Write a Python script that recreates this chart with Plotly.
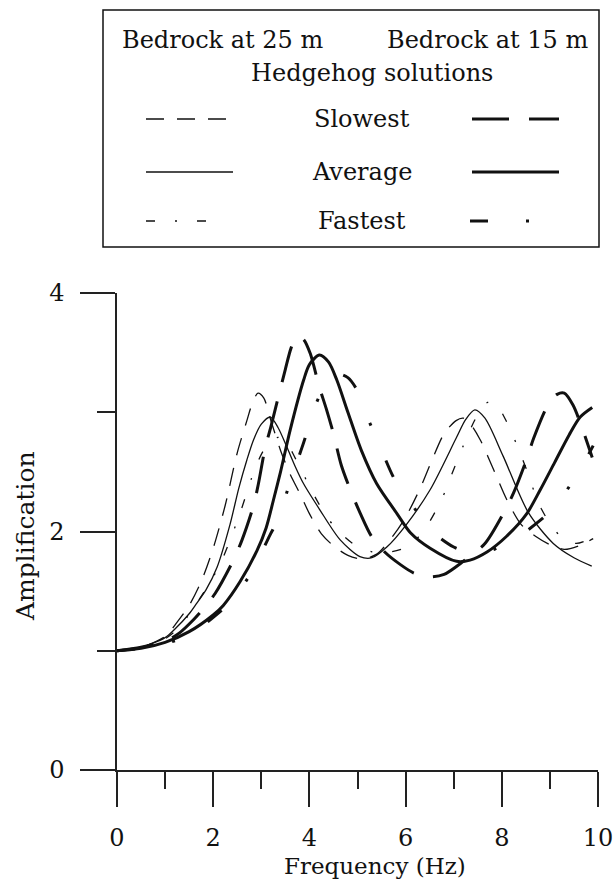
import plotly.graph_objects as go

# ---------------- data ----------------
# Bedrock at 25 m (thin lines)
f_25_slow = [0, 0.5, 1.0, 1.25, 1.5, 1.75, 2.0, 2.25, 2.5, 2.7, 2.8, 2.93, 3.05, 3.2, 3.4, 3.6, 3.8, 4.0,
             4.25, 4.5, 4.8, 5.1, 5.4, 5.75, 6.0, 6.3, 6.55, 6.8, 7.05, 7.2, 7.35, 7.55, 7.85, 8.1,
             8.4, 8.7, 9.0, 9.3, 9.6, 9.9]
a_25_slow = [1.0, 1.03, 1.12, 1.24, 1.38, 1.58, 1.86, 2.22, 2.66, 2.93, 3.06, 3.16, 3.12, 2.93, 2.68,
             2.48, 2.32, 2.15, 1.98, 1.88, 1.80, 1.77, 1.81, 1.97, 2.12, 2.36, 2.60, 2.82, 2.93, 2.95,
             2.90, 2.77, 2.50, 2.27, 2.06, 1.96, 1.89, 1.85, 1.88, 1.94]

f_25_avg = [0, 0.5, 1.0, 1.2, 1.5, 1.66, 1.85, 2.08, 2.35, 2.53, 2.7, 2.84, 3.0, 3.19, 3.35, 3.53, 3.7,
            3.88, 4.22, 4.64, 5.05, 5.3, 5.61, 6.0, 6.51, 7.06, 7.25, 7.44, 7.65, 8.03, 8.55, 9.07,
            9.5, 9.87]
a_25_avg = [1.0, 1.03, 1.11, 1.18, 1.31, 1.40, 1.51, 1.70, 2.06, 2.36, 2.60, 2.77, 2.90, 2.96, 2.87,
            2.71, 2.55, 2.40, 2.18, 1.93, 1.79, 1.78, 1.87, 2.05, 2.35, 2.79, 2.94, 3.02, 2.95, 2.63,
            2.16, 1.90, 1.78, 1.71]

f_25_fast = [0, 0.5, 1.0, 1.3, 1.59, 1.9, 2.17, 2.4, 2.58, 2.8, 2.98, 3.15, 3.35, 3.5, 3.7, 3.95, 4.2,
             4.5, 4.9, 5.3, 5.7, 6.07, 6.4, 6.75, 6.97, 7.2, 7.42, 7.6, 7.75, 7.9, 8.1, 8.33, 8.55,
             8.76, 9.03, 9.3, 9.55, 9.9]
a_25_fast = [1.0, 1.03, 1.10, 1.20, 1.36, 1.55, 1.75, 1.98, 2.18, 2.45, 2.63, 2.74, 2.79, 2.76, 2.62,
             2.42, 2.23, 2.05, 1.90, 1.83, 1.83, 1.88, 2.02, 2.27, 2.49, 2.72, 2.92, 3.05, 3.09, 3.06,
             2.92, 2.71, 2.48, 2.24, 2.05, 1.93, 1.90, 1.95]

# Bedrock at 15 m (thick lines)
f_15_slow = [0, 0.5, 1.0, 1.3, 1.59, 1.77, 2.04, 2.42, 2.6, 2.84, 2.94, 3.08, 3.2, 3.38, 3.5, 3.62,
             3.74, 3.88, 4.02, 4.2, 4.35, 4.5, 4.66, 4.85, 5.06, 5.29, 5.56, 5.9, 6.18, 6.5, 6.8,
             7.2, 7.65, 8.03, 8.24, 8.52, 8.66, 8.97, 9.15, 9.3, 9.48, 9.65, 9.88]
a_15_slow = [1.0, 1.03, 1.08, 1.15, 1.26, 1.34, 1.48, 1.76, 1.93, 2.22, 2.40, 2.70, 2.88, 3.17, 3.36,
             3.54, 3.64, 3.61, 3.49, 3.22, 3.03, 2.82, 2.56, 2.35, 2.15, 1.96, 1.83, 1.72, 1.65,
             1.62, 1.64, 1.75, 1.90, 2.15, 2.32, 2.61, 2.78, 3.07, 3.15, 3.16, 3.06, 2.89, 2.62]

f_15_avg = [0, 0.5, 1.0, 1.5, 2.0, 2.21, 2.56, 2.91, 3.1, 3.25, 3.4, 3.6, 3.88, 4.0, 4.21, 4.4, 4.57,
            4.8, 5.08, 5.4, 5.82, 6.1, 6.51, 7.06, 7.34, 7.7, 8.1, 8.52, 8.8, 9.1, 9.4, 9.63, 9.88]
a_15_avg = [1.0, 1.02, 1.07, 1.16, 1.30, 1.38, 1.58, 1.84, 2.03, 2.26, 2.50, 2.85, 3.27, 3.40, 3.48,
            3.42, 3.27, 3.00, 2.68, 2.40, 2.15, 1.99, 1.86, 1.75, 1.76, 1.83, 1.96, 2.15, 2.35,
            2.58, 2.81, 2.96, 3.04]

f_15_fast = [0, 0.5, 1.0, 1.5, 1.97, 2.29, 2.5, 2.8, 3.0, 3.18, 3.36, 3.6, 3.9, 4.0, 4.33, 4.6, 4.8,
             5.0, 5.1, 5.44, 5.78, 6.03, 6.5, 7.0, 7.4, 7.7, 8.1, 8.5, 9.07, 9.31, 9.74, 9.9]
a_15_fast = [1.0, 1.02, 1.06, 1.13, 1.27, 1.38, 1.48, 1.66, 1.82, 1.97, 2.11, 2.42, 2.77, 2.92, 3.23,
             3.32, 3.29, 3.18, 3.06, 2.74, 2.43, 2.29, 2.02, 1.87, 1.82, 1.83, 1.90, 2.00, 2.19,
             2.32, 2.60, 2.72]

x_ticks = [0, 2, 4, 6, 8, 10]
y_ticks = [0, 2, 4]

# ---------------- styling ----------------
FONT = "DejaVu Serif"
INK = "#111111"
THIN, THICK = 1.3, 3.0
DASH_SLOW_THIN = "18px,13px"
DASH_FAST_THIN = "9px,20px,2px,20px"
DASH_SLOW_THICK = "37px,20px"
DASH_FAST_THICK = "18px,38px,3px,38px"

W_FIG, H_FIG = 613, 881
ML, MR, MT, MB = 117, 15, 293, 111
PW = W_FIG - ML - MR
PH = H_FIG - MT - MB


def px(x):
    return (x - ML) / PW


def py(y):
    return (H_FIG - MB - y) / PH


fig = go.Figure()

series = [
    (f_25_slow, a_25_slow, THIN, DASH_SLOW_THIN, "25 m slowest"),
    (f_25_avg, a_25_avg, THIN, "solid", "25 m average"),
    (f_25_fast, a_25_fast, THIN, DASH_FAST_THIN, "25 m fastest"),
    (f_15_slow, a_15_slow, THICK, DASH_SLOW_THICK, "15 m slowest"),
    (f_15_avg, a_15_avg, THICK, "solid", "15 m average"),
    (f_15_fast, a_15_fast, THICK, DASH_FAST_THICK, "15 m fastest"),
]
for fx, ay, w, d, nm in series:
    fig.add_trace(go.Scatter(
        x=fx, y=ay, mode="lines", name=nm, showlegend=False,
        line=dict(color=INK, width=w, dash=d, shape="spline", smoothing=0.8),
    ))

axis_common = dict(
    showgrid=False, zeroline=False, showline=True, linecolor="#222", linewidth=1.5,
    ticks="outside", tickcolor="#222", tickwidth=1.5, ticklen=35,
    tickfont=dict(family=FONT, size=24, color=INK),
    ticklabeloverflow="allow", automargin=False,
)
fig.update_xaxes(range=[0, 10], tickvals=x_ticks, ticktext=[str(v) for v in x_ticks],
                 ticklabelstandoff=10,
                 minor=dict(dtick=1, tick0=1, ticklen=17, tickwidth=1.5, tickcolor="#222", ticks="outside"),
                 **axis_common)
fig.update_yaxes(range=[0, 4], tickvals=y_ticks, ticktext=[str(v) for v in y_ticks],
                 ticklabelstandoff=11,
                 minor=dict(dtick=1, tick0=1, ticklen=18, tickwidth=1.5, tickcolor="#222", ticks="outside"),
                 **axis_common)

ann = []
txt = dict(family=FONT, size=24, color=INK)
ann.append(dict(text="Frequency (Hz)", x=px(375), y=py(866), xanchor="center", yanchor="middle",
                font=dict(family=FONT, size=23, color=INK)))
ann.append(dict(text="Amplification", x=px(25), y=py(536), xanchor="center", yanchor="middle",
                textangle=-90, font=dict(family=FONT, size=25, color=INK)))
ann.append(dict(text="Bedrock at 25 m", x=px(120), y=py(40), xanchor="left", yanchor="middle", font=txt))
ann.append(dict(text="Bedrock at 15 m", x=px(590), y=py(40), xanchor="right", yanchor="middle", font=txt))
ann.append(dict(text="Hedgehog solutions", x=px(372), y=py(73), xanchor="center", yanchor="middle", font=txt))
for label, yy in [("Slowest", 119), ("Average", 172), ("Fastest", 221)]:
    ann.append(dict(text=label, x=px(362), y=py(yy), xanchor="center", yanchor="middle", font=txt))
for a in ann:
    a.update(xref="paper", yref="paper", showarrow=False)

shapes = [dict(type="rect", xref="paper", yref="paper", x0=px(103), x1=px(599), y0=py(247), y1=py(10),
               line=dict(color=INK, width=1.5))]
legend_samples = [
    (146, 233, 119, THIN, DASH_SLOW_THIN), (146, 233, 172, THIN, "solid"), (146, 215, 221, THIN, DASH_FAST_THIN),
    (472, 559, 119, THICK, DASH_SLOW_THICK), (472, 559, 172, THICK, "solid"), (470, 530, 221, THICK, DASH_FAST_THICK),
]
for x0, x1, yy, w, d in legend_samples:
    shapes.append(dict(type="line", xref="paper", yref="paper", x0=px(x0), x1=px(x1), y0=py(yy), y1=py(yy),
                       line=dict(color=INK, width=w, dash=d)))

fig.update_layout(
    width=W_FIG, height=H_FIG, autosize=False,
    margin=dict(l=ML, r=MR, t=MT, b=MB, pad=0, autoexpand=False),
    paper_bgcolor="white", plot_bgcolor="white",
    annotations=ann, shapes=shapes, showlegend=False,
    font=dict(family=FONT, color=INK),
)

fig.write_html("out.html", config={"displayModeBar": False},
               post_script="document.body.style.margin='0px';document.body.style.overflow='hidden';")
